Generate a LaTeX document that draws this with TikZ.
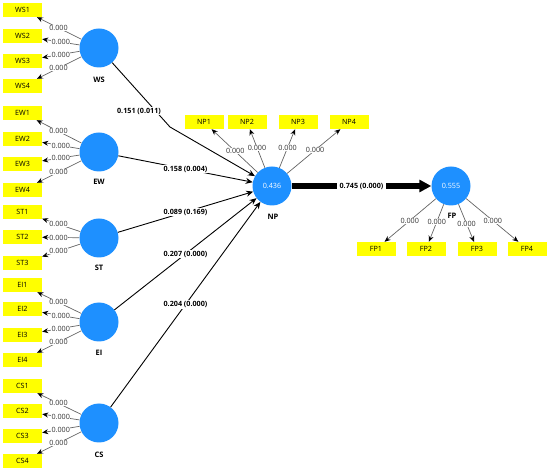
\documentclass[tikz,border=0pt]{standalone}
\usepackage{fontspec}
\setmainfont{Open Sans}
\usetikzlibrary{calc,arrows.meta}
\definecolor{lvblue}{RGB}{30,144,255}
\definecolor{mvyellow}{RGB}{255,255,0}
\definecolor{ldgray}{RGB}{100,100,100}
\definecolor{ldtext}{RGB}{50,50,50}
\begin{document}
\begin{tikzpicture}[x=1pt,y=-1pt,
  lv/.style={circle,fill=lvblue,minimum size=39pt,inner sep=0pt,text=white,font=\fontsize{7.2}{8}\selectfont},
  mv/.style={rectangle,fill=mvyellow,minimum width=39pt,minimum height=14pt,inner sep=0pt,font=\fontsize{7.2}{8}\selectfont},
  lvname/.style={font=\bfseries\fontsize{7.5}{8}\selectfont},
  ld/.style={draw=ldgray,line width=0.7pt,-{Stealth[length=6pt,width=5pt,color=black]}},
  ldl/.style={fill=white,inner sep=0.4pt,text=ldtext,font=\fontsize{7.2}{8}\selectfont},
  pth/.style={draw=black,line width=0.9pt,-{Stealth[length=7pt,width=6pt]}},
  pl/.style={fill=white,inner sep=1pt,font=\bfseries\fontsize{7.2}{8}\selectfont},
  big/.style={draw=black,line width=5.5pt,-{Triangle[length=12pt,width=12pt]}}]
\useasboundingbox (0,0) rectangle (550,473);

% latent variables
\node[lv] (WS) at (99,48) {};
\node[lv] (EW) at (99,152) {};
\node[lv] (ST) at (99,238) {};
\node[lv] (EI) at (99,322) {};
\node[lv] (CS) at (99,423) {};
\node[lv] (NP) at (272,186) {0.436};
\node[lv] (FP) at (451,186) {0.555};

\node[lvname] (nWS) at (99,80) {WS};
\node[lvname] (nEW) at (99,182) {EW};
\node[lvname] (nST) at (99,268) {ST};
\node[lvname] (nEI) at (99,353) {EI};
\node[lvname] (nCS) at (99,455) {CS};
\node[lvname] (nNP) at (273,217) {NP};
\node[lvname] (nFP) at (452,216) {FP};

% indicators left
\foreach \n/\y in {WS1/10,WS2/36,WS3/61,WS4/86,EW1/113,EW2/139,EW3/164,EW4/190,
  ST1/212,ST2/237,ST3/263,EI1/285,EI2/309,EI3/335,EI4/360,CS1/386,CS2/411,CS3/436,CS4/461}
  \node[mv] (\n) at (22.5,\y) {\n};
% indicators NP, FP
\foreach \n/\x in {NP1/204,NP2/247,NP3/298,NP4/349}
  \node[mv] (\n) at (\x,122) {\n};
\foreach \n/\x in {FP1/376,FP2/426,FP3/477,FP4/527}
  \node[mv] (\n) at (\x,249) {\n};

% outer loadings
\foreach \l/\m/\p in {WS/WS1/0.53,WS/WS2/0.5,WS/WS3/0.5,WS/WS4/0.53,
  EW/EW1/0.53,EW/EW2/0.5,EW/EW3/0.5,EW/EW4/0.53,
  ST/ST1/0.53,ST/ST2/0.53,ST/ST3/0.53,
  EI/EI1/0.53,EI/EI2/0.5,EI/EI3/0.5,EI/EI4/0.53,
  CS/CS1/0.53,CS/CS2/0.5,CS/CS3/0.5,CS/CS4/0.53,
  NP/NP1/0.54,NP/NP2/0.6,NP/NP3/0.6,NP/NP4/0.56,
  FP/FP1/0.55,FP/FP2/0.57,FP/FP3/0.6,FP/FP4/0.55}
{
  \draw[ld] (\l) -- (\m);
  \node[ldl] (lab\m) at ($(\l)!\p!(\m)$) {0.000};
}

% structural paths
\coordinate (wsbend) at (170,127);
\draw[pth] (WS) -- (wsbend) -- (NP);
\node[pl] (pWS) at (139,111) {0.151 (0.011)};
\draw[pth] (EW) -- node[pl] (pEW) {0.158 (0.004)} (NP);
\draw[pth] (ST) -- node[pl] (pST) {0.089 (0.169)} (NP);
\draw[pth] (EI) -- node[pl] (pEI) {0.207 (0.000)} (NP);
\draw[pth] (CS) -- node[pl] (pCS) {0.204 (0.000)} (NP);
\draw[big] (NP) -- node[pl,inner sep=2.5pt] (pNP) {0.745 (0.000)} (FP);
\end{tikzpicture}
\end{document}
